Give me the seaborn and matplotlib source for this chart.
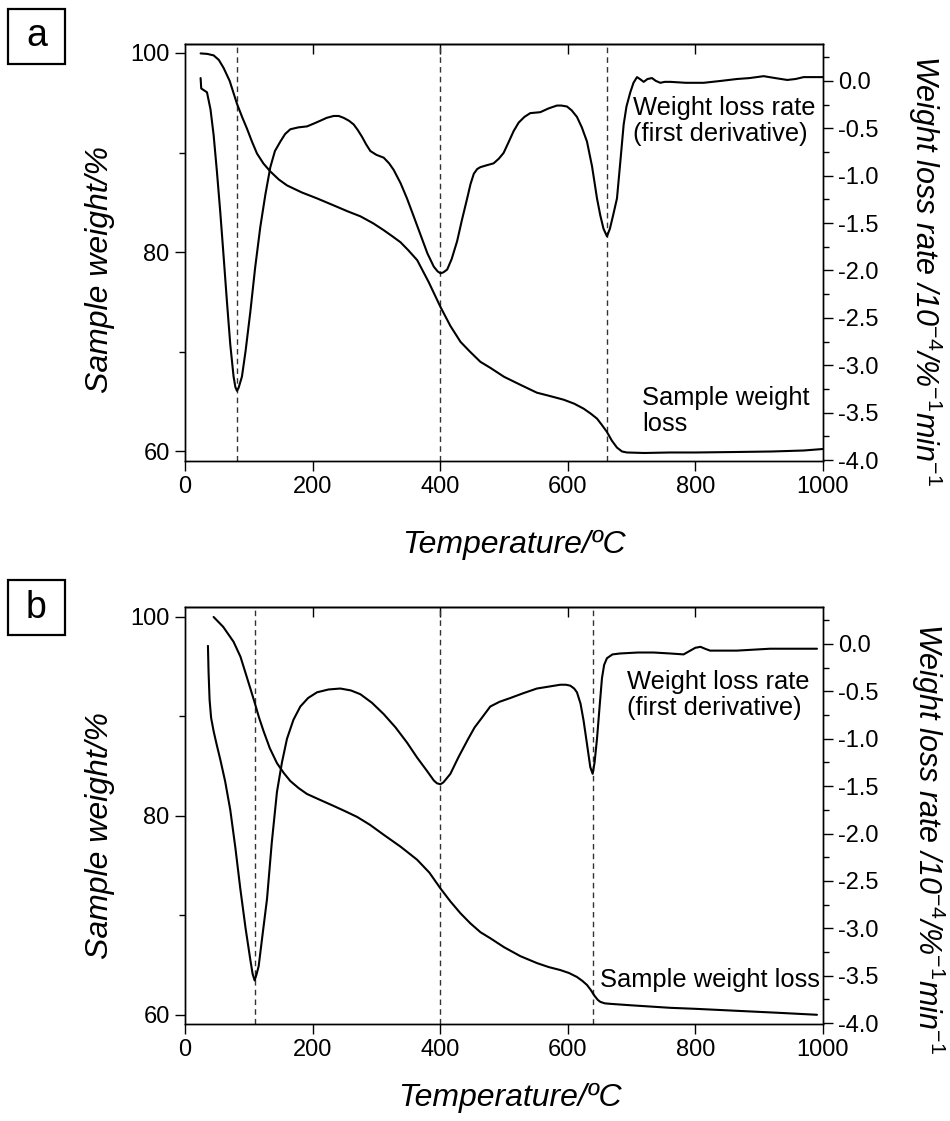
import numpy as np
import pandas as pd
import seaborn as sns
import matplotlib
matplotlib.use("Agg")
import matplotlib.pyplot as plt
from matplotlib.patches import Rectangle
from matplotlib.ticker import MultipleLocator

# ---------------- data ----------------
# Panel a: sample weight (%) vs temperature (°C)
a_w_T = [24.5, 35, 45, 53, 60.5, 70, 81.5, 90, 97.2, 105, 112.9, 123, 133.8, 147, 160, 183, 207, 233,
         255, 275, 295, 311.7, 325, 337.8, 350, 364, 382, 400.5, 416, 431.9, 447, 463, 478.5, 500,
         525.5, 551.6, 570, 593.4, 610, 624.8, 636, 645.8, 653, 661, 669, 677, 685, 692.8, 720, 760,
         800, 865, 920, 970, 1000]
a_w = [99.95, 99.9, 99.75, 99.3, 98.5, 97.2, 94.9, 93.5, 92.4, 91.1, 89.9, 88.9, 88.1, 87.3, 86.7, 86.0,
       85.4, 84.7, 84.1, 83.6, 82.9, 82.2, 81.6, 81.0, 80.2, 79.2, 77.0, 74.5, 72.6, 71.0, 70.0, 69.0,
       68.4, 67.5, 66.7, 65.9, 65.6, 65.2, 64.8, 64.3, 63.8, 63.3, 62.7, 62.0, 61.1, 60.4, 60.0, 59.9,
       59.85, 59.9, 59.9, 59.95, 60.0, 60.1, 60.25]

# Panel a: weight loss rate (first derivative)
a_d_T = [24.5, 25.5, 30, 34.5, 40, 44.9, 50, 55.4, 60, 65.8, 71, 76.2, 79, 81.5, 84, 89.3, 95, 102.4,
         110, 118.1, 126, 133.8, 141, 149.5, 157, 165.2, 178, 191.3, 202, 212.2, 222, 233, 241, 248.8,
         257, 264.5, 271, 277.5, 284, 290.6, 300, 311.5, 320, 327.2, 338, 348, 358, 369, 380, 390, 396,
         400.5, 405, 411, 418, 426.6, 434, 442.3, 447.5, 452.7, 458, 463, 473, 483.7, 492, 499.4, 507,
         515.1, 523, 532, 541.2, 556.9, 570, 583, 590, 598.7, 606, 614.4, 622, 630.1, 638, 645.8, 651,
         656, 661.4, 666, 671, 677.1, 682, 687.6, 692, 698, 703, 708.5, 713, 719, 725, 732, 738, 745,
         752, 760.7, 785, 813, 840, 865, 885, 907, 925, 944, 957, 969.6, 1000]
a_d = [0.03, -0.08, -0.10, -0.12, -0.30, -0.57, -0.95, -1.39, -1.80, -2.33, -2.78, -3.12, -3.23, -3.27,
       -3.24, -3.12, -2.85, -2.44, -1.97, -1.54, -1.20, -0.91, -0.74, -0.64, -0.56, -0.51, -0.49, -0.48,
       -0.45, -0.42, -0.39, -0.37, -0.37, -0.39, -0.42, -0.46, -0.52, -0.59, -0.67, -0.74, -0.78, -0.81,
       -0.87, -0.94, -1.08, -1.24, -1.42, -1.62, -1.82, -1.96, -2.01, -2.03, -2.02, -1.99, -1.88, -1.69,
       -1.47, -1.24, -1.09, -0.98, -0.93, -0.91, -0.89, -0.87, -0.82, -0.76, -0.65, -0.53, -0.44, -0.38,
       -0.34, -0.33, -0.29, -0.26, -0.26, -0.27, -0.31, -0.38, -0.49, -0.64, -0.90, -1.24, -1.42, -1.56,
       -1.64, -1.56, -1.42, -1.24, -0.88, -0.46, -0.27, -0.12, -0.02, 0.04, 0.02, -0.01, 0.02, 0.03, 0.0,
       -0.02, -0.01, -0.01, -0.02, -0.02, 0.0, 0.02, 0.03, 0.05, 0.03, 0.01, 0.02, 0.04, 0.04]
a_peaks = [81.5, 400, 661]

# Panel b: sample weight (%)
b_w_T = [44.9, 60, 76.2, 87, 97.2, 103, 109.2, 116, 123.3, 133, 144.2, 155, 165.2, 178, 191.3, 212, 233,
         250, 269.7, 290, 311.5, 338, 363.7, 383, 400.5, 416, 431.9, 447.2, 463.2, 478.5, 500, 525.5,
         551.6, 570, 588.2, 602, 614.4, 623, 630.1, 636, 642, 647, 651, 658, 666.8, 700, 760.7, 800, 865,
         930, 990.6]
b_w = [100.0, 99.0, 97.5, 96.0, 93.9, 92.7, 91.4, 89.9, 88.5, 86.8, 85.3, 84.3, 83.5, 82.8, 82.2, 81.6,
       81.0, 80.5, 79.9, 79.1, 78.1, 76.9, 75.6, 74.3, 72.7, 71.4, 70.2, 69.2, 68.3, 67.7, 66.8, 65.9,
       65.2, 64.8, 64.5, 64.2, 63.8, 63.4, 63.0, 62.5, 61.9, 61.5, 61.3, 61.15, 61.1, 60.95, 60.7, 60.6,
       60.4, 60.2, 60.0]

# Panel b: weight loss rate (first derivative)
b_d_T = [36, 37, 38.6, 41, 44.9, 50, 55.4, 63, 71, 79, 86.7, 95, 102.4, 106, 109.2, 112, 115.5, 121,
         128.6, 136, 144.2, 152, 159.9, 170, 180.8, 193, 206.9, 225, 243.5, 260, 274.9, 293, 311.5, 330,
         348, 364, 379.4, 390, 395, 400.5, 405, 410, 416, 429, 444, 454, 463, 478.5, 493, 510, 530,
         551.6, 570, 588.2, 597, 604, 610, 614.4, 620, 624.8, 630, 635.3, 639, 642, 645.8, 650, 653.6,
         657, 661.4, 670, 682.3, 710, 734.5, 760, 781.5, 792, 800, 808, 815, 823, 865, 917, 960, 990.6]
b_d = [-0.02, -0.30, -0.59, -0.78, -0.92, -1.07, -1.22, -1.45, -1.75, -2.15, -2.58, -3.00, -3.33, -3.48,
       -3.55, -3.49, -3.40, -3.10, -2.69, -2.10, -1.56, -1.25, -1.00, -0.80, -0.66, -0.57, -0.51, -0.48,
       -0.47, -0.49, -0.53, -0.62, -0.74, -0.88, -1.04, -1.20, -1.34, -1.44, -1.47, -1.48, -1.46, -1.42,
       -1.37, -1.19, -1.00, -0.88, -0.80, -0.66, -0.61, -0.57, -0.52, -0.47, -0.45, -0.43, -0.43, -0.44,
       -0.47, -0.51, -0.63, -0.81, -1.05, -1.30, -1.37, -1.25, -1.00, -0.65, -0.36, -0.22, -0.15, -0.11,
       -0.10, -0.09, -0.09, -0.10, -0.11, -0.07, -0.04, -0.03, -0.05, -0.07, -0.07, -0.05, -0.05, -0.05]
b_peaks = [109, 400, 639]

x_ticks = [0, 200, 400, 600, 800, 1000]
left_ticks = [60, 80, 100]
right_ticks = [0.0, -0.5, -1.0, -1.5, -2.0, -2.5, -3.0, -3.5, -4.0]
right_tick_labels = ["0.0", "-0.5", "-1.0", "-1.5", "-2.0", "-2.5", "-3.0", "-3.5", "-4.0"]

# ---------------- style ----------------
sns.set_theme(style="ticks")
plt.rcParams["font.family"] = ["Liberation Sans", "DejaVu Sans"]
plt.rcParams["mathtext.fontset"] = "custom"
plt.rcParams["mathtext.rm"] = "Liberation Sans"
plt.rcParams["mathtext.it"] = "Liberation Sans:italic"
plt.rcParams["mathtext.bf"] = "Liberation Sans:bold"
plt.rcParams["axes.linewidth"] = 1.0
plt.rcParams["text.color"] = "black"
plt.rcParams["axes.labelcolor"] = "black"
plt.rcParams["xtick.color"] = "black"
plt.rcParams["ytick.color"] = "black"
plt.rcParams["axes.edgecolor"] = "black"

TICK_FS = 17
LABEL_FS = 23
RLABEL_FS = 22
ANN_FS = 18.4

fig = plt.figure(figsize=(9.5, 11.21), dpi=100)

panels = [
    dict(letter="a", bottom=0.5888, wT=a_w_T, w=a_w, dT=a_d_T, d=a_d, peaks=a_peaks,
         ylim_l=(59.05, 100.9), ylim_r=(-4.01, 0.39),
         ann1=(0.702, 0.815), ann2=(0.716, 0.12), ann2_text="Sample weight\nloss",
         ylab=(-0.133, 0.46), rlab=(1.16, 0.458), xlab=(0.516, -0.201),
         box_y=(1121 - 64) / 1121),
    dict(letter="b", bottom=0.0865, wT=b_w_T, w=b_w, dT=b_d_T, d=b_d, peaks=b_peaks,
         ylim_l=(59.07, 101.0), ylim_r=(-4.01, 0.39),
         ann1=(0.693, 0.789), ann2=(0.650, 0.1055), ann2_text="Sample weight loss",
         ylab=(-0.133, 0.451), rlab=(1.165, 0.446), xlab=(0.509, -0.177),
         box_y=(1121 - 635) / 1121),
]

for p in panels:
    ax = fig.add_axes([0.1947, p["bottom"], 0.6716, 0.372])
    ax2 = ax.twinx()

    dfw = pd.DataFrame({"T": p["wT"], "W": p["w"]})
    dfd = pd.DataFrame({"T": p["dT"], "D": p["d"]})
    sns.lineplot(data=dfw, x="T", y="W", ax=ax, color="black", lw=1.5, estimator=None)
    sns.lineplot(data=dfd, x="T", y="D", ax=ax2, color="black", lw=1.5, estimator=None)

    for xp in p["peaks"]:
        ax.axvline(xp, color="#333333", lw=1.0, ls=(0, (4, 3)), zorder=1)

    ax.set_xlim(0, 1000)
    ax.set_ylim(*p["ylim_l"])
    ax2.set_ylim(*p["ylim_r"])

    ax.set_xticks(x_ticks)
    ax.set_yticks(left_ticks)
    ax.yaxis.set_minor_locator(MultipleLocator(10))
    ax2.set_yticks(right_ticks)
    ax2.set_yticklabels(right_tick_labels)
    ax2.yaxis.set_minor_locator(MultipleLocator(0.25))

    ax.tick_params(axis="both", which="major", direction="out", length=7, width=1.0,
                   labelsize=TICK_FS, colors="black", pad=4)
    ax.tick_params(axis="y", which="minor", direction="out", length=4, width=1.0)
    ax.tick_params(axis="x", which="minor", bottom=False)
    ax2.tick_params(axis="y", which="major", direction="out", length=7, width=1.0,
                    labelsize=TICK_FS, colors="black", pad=4)
    ax2.tick_params(axis="y", which="minor", direction="out", length=4, width=1.0)

    # top axis: inward ticks, no labels
    sec = ax.secondary_xaxis("top")
    sec.set_xticks([200, 400, 600, 800])
    sec.tick_params(axis="x", direction="in", length=7, width=1.0, labeltop=False)
    sec.spines["top"].set_linewidth(1.0)

    for s in ax.spines.values():
        s.set_visible(True)
        s.set_color("black")
        s.set_linewidth(1.0)

    ax.set_xlabel("")
    ax.set_ylabel("")
    ax2.set_ylabel("")

    ax.text(*p["ylab"], "Sample weight/%", transform=ax.transAxes, rotation=90,
            ha="center", va="center", fontsize=LABEL_FS, style="italic", color="black")
    ax.text(*p["xlab"], "Temperature/ºC", transform=ax.transAxes,
            ha="center", va="center", fontsize=LABEL_FS, style="italic", color="black")
    ax.text(*p["rlab"], r"Weight loss rate /10$^{-4}$/%$^{-1}$min$^{-1}$", transform=ax.transAxes,
            rotation=270, ha="center", va="center", fontsize=RLABEL_FS, style="italic", color="black")

    ax.text(*p["ann1"], "Weight loss rate\n(first derivative)", transform=ax.transAxes,
            ha="left", va="center", fontsize=ANN_FS, linespacing=1.1, color="black")
    ax.text(*p["ann2"], p["ann2_text"], transform=ax.transAxes,
            ha="left", va="center", fontsize=ANN_FS, linespacing=1.1, color="black")

    # panel letter box
    fig.patches.append(Rectangle((8 / 950, p["box_y"]), 57 / 950, 55 / 1121,
                                 transform=fig.transFigure, fill=False, edgecolor="black", lw=1.6))
    fig.text((8 + 28.5) / 950, p["box_y"] + 27.5 / 1121, p["letter"], ha="center", va="center",
             fontsize=27, color="black")

fig.savefig("out.png", dpi=100)
